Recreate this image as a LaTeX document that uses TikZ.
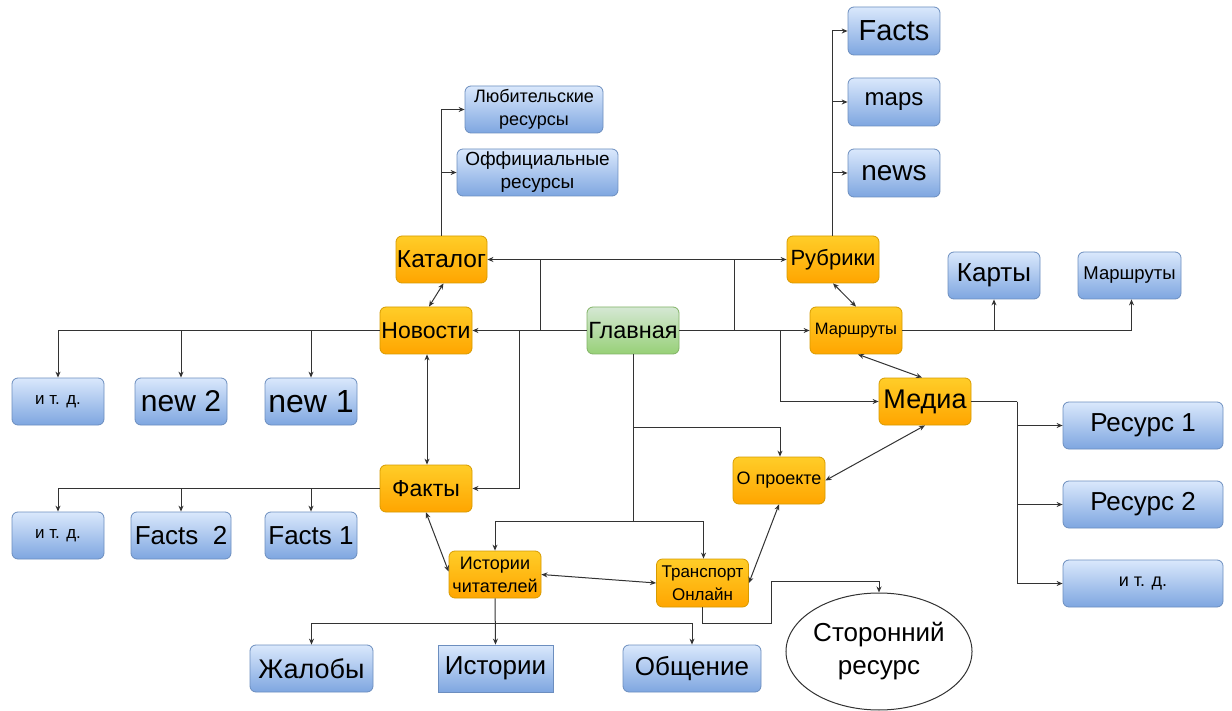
\documentclass[tikz,border=0pt]{standalone}
\usepackage{fontspec}
\setmainfont{Liberation Sans}
\usetikzlibrary{arrows.meta,shapes.geometric}
\definecolor{orT}{HTML}{FFCD28}\definecolor{orB}{HTML}{FFA500}\definecolor{orD}{HTML}{D79B00}
\definecolor{blT}{HTML}{DAE8FC}\definecolor{blB}{HTML}{7EA6E0}\definecolor{blD}{HTML}{6C8EBF}
\definecolor{grT}{HTML}{D5E8D4}\definecolor{grB}{HTML}{97D077}\definecolor{grD}{HTML}{82B366}
\definecolor{ln}{HTML}{333333}
\tikzset{
  base/.style={rounded corners=6pt, inner sep=0pt, align=center, line width=0.8pt, text=black},
  org/.style={base, draw=orD, top color=orT, bottom color=orB},
  blu/.style={base, draw=blD, top color=blT, bottom color=blB},
  grn/.style={base, draw=grD, top color=grT, bottom color=grB},
  sz/.style 2 args={minimum width=#1, minimum height=#2},
  fa/.style={font=\fontsize{#1}{#1}\selectfont},
  fb/.style={font=\fontsize{#1}{23}\selectfont},
  conn/.style={draw=ln, line width=1pt},
  arr/.style={conn, -{Stealth[length=6pt,width=5pt]}},
  darr/.style={conn, {Stealth[length=6pt,width=5pt]}-{Stealth[length=6pt,width=5pt]}},
}
\begin{document}
\begin{tikzpicture}[x=1pt,y=-1pt]
\useasboundingbox[fill=white] (0,0) rectangle (1232,711);
% top right column
\node[blu, sz={92}{48}, fa=29] (facts) at (894,31) {Facts};
\node[blu, sz={92}{48}, fa=24] (maps) at (894,102) {maps};
\node[blu, sz={92}{48}, fa=28] (news) at (894,173) {news};
\node[org, sz={92}{47}, fa=22] (rub) at (833,259.5) {Рубрики};
% top left
\node[blu, sz={138}{47}, fb=18] (lub) at (534,109.5) {Любительские\\ресурсы};
\node[blu, sz={161}{47}, fb=19] (off) at (537.5,172.5) {Оффициальные\\ресурсы};
\node[org, sz={91}{47}, fa=24.5] (kat) at (441.5,259.5) {Каталог};
% middle row
\node[org, sz={92}{47}, fa=23] (nov) at (426,330.5) {Новости};
\node[grn, sz={92}{47}, fa=23.5] (glav) at (633,330.5) {Главная};
\node[org, sz={92}{47}, fa=16.5] (mar) at (856,330.5) {Маршруты};
\node[blu, sz={92}{47}, fa=26] (karty) at (994,275.5) {Карты};
\node[blu, sz={103}{47}, fa=18.5] (mar2) at (1129.5,275.5) {Маршруты};
\node[org, sz={92}{47}, fa=27] (med) at (925,401.5) {Медиа};
% left rows
\node[blu, sz={92}{47}, fa=17] (itdA) at (58,401.5) {и т. д.};
\node[blu, sz={92}{47}, fa=30] (new2) at (181,401.5) {new 2};
\node[blu, sz={92}{47}, fa=32] (new1) at (311,401.5) {new 1};
\node[org, sz={92}{47}, fa=23] (fak) at (426,488.5) {Факты};
\node[blu, sz={92}{47}, fa=17] (itdB) at (58,535.5) {и т. д.};
\node[blu, sz={100}{47}, fa=26] (f2) at (181,535.5) {Facts\ \ 2};
\node[blu, sz={92}{47}, fa=26] (f1) at (311,535.5) {Facts 1};
% lower middle
\node[org, sz={92}{47}, fa=18] (opr) at (779,480.5) {О проекте};
\node[org, sz={92}{47}, fb=18] (ist) at (495,574.5) {Истории\\читателей};
\node[org, sz={92}{48}, fb=17] (tr) at (702.5,583) {Транспорт\\Онлайн};
% right column
\node[blu, sz={160}{47}, fa=26] (res1) at (1143,425.5) {Ресурс 1};
\node[blu, sz={160}{47}, fa=26] (res2) at (1143,504.5) {Ресурс 2};
\node[blu, sz={160}{47}, fa=18] (itdC) at (1143,583.5) {и т. д.};
% bottom row
\node[blu, sz={123}{47}, fa=27] (zhal) at (311.5,668.5) {Жалобы};
\node[blu, sz={115}{47}, fa=26, rounded corners=0pt] (istr) at (495.5,668.5) {Истории};
\node[blu, sz={138}{47}, fa=26] (obsh) at (692,668.5) {Общение};
\node[ellipse, draw=ln, line width=1pt, fill=white, minimum width=169, minimum height=117, inner sep=0pt, align=center, font=\fontsize{26}{33}\selectfont] (stor) at (879,651.5) {Сторонний\\ресурс};
% junction coordinates
\coordinate (jA) at (540,330.5);
\coordinate (jB) at (734,330.5);
\coordinate (jC) at (780,330.5);
\coordinate (jD) at (519,330.5);
\coordinate (jE) at (633,427);
\coordinate (jF) at (633,521);
\coordinate (jG) at (1017,401.5);
\coordinate (jH) at (495,623);
\coordinate (k1) at (771,623);
\coordinate (k2) at (771,581);
% connectors
\draw[arr] (kat.north) |- (lub.west);
\draw[arr] (kat.north) |- (off.west);
\draw[arr] ([xshift=-1pt]rub.north) |- (facts.west);
\draw[arr] ([xshift=-1pt]rub.north) |- (maps.west);
\draw[arr] ([xshift=-1pt]rub.north) |- (news.west);
\draw[arr] (glav.west) -- (nov.east);
\draw[arr] (glav.west) -- (jA) |- (rub.west);
\draw[arr] (glav.east) -- (jB) |- (kat.east);
\draw[arr] (glav.east) -- (mar.west);
\draw[arr] (jC) |- (med.west);
\draw[arr] (jD) |- (fak.east);
\draw[arr] (nov.west) -| (itdA.north);
\draw[arr] (nov.west) -| (new2.north);
\draw[arr] (nov.west) -| (new1.north);
\draw[arr] (fak.west) -| (itdB.north);
\draw[arr] (fak.west) -| (f2.north);
\draw[arr] (fak.west) -| (f1.north);
\draw[darr] ([xshift=1pt]nov.south) -- ([xshift=1pt]fak.north);
\draw[darr] ([xshift=2pt]kat.south) -- ([xshift=3pt]nov.north);
\draw[darr] (rub.south) -- (mar.north);
\draw[darr] ([xshift=2pt]mar.south) -- ([xshift=-3pt]med.north);
\draw[darr] (med.south) -- (opr.east);
\draw[darr] (opr.south) -- (tr.east);
\draw[darr] (fak.south) -- ([yshift=3pt]ist.west);
\draw[darr] (ist.east) -- (tr.west);
\draw[conn] (glav.south) -- (jF);
\draw[arr] (jE) -| ([xshift=1pt]opr.north);
\draw[arr] (jF) -| (ist.north);
\draw[arr] (jF) -| ([xshift=1pt]tr.north);
\draw[conn] (med.east) -- (jG);
\draw[arr] (jG) |- (res1.west);
\draw[arr] (jG) |- (res2.west);
\draw[arr] (jG) |- (itdC.west);
\draw[arr] (mar.east) -| (karty.south);
\draw[arr] (mar.east) -| ([xshift=2pt]mar2.south);
\draw[arr] (ist.south) -- (istr.north);
\draw[arr] (jH) -| (zhal.north);
\draw[arr] (jH) -| (obsh.north);
\draw[arr] (tr.south) |- (k1) -- (k2) -| (stor.north);
\end{tikzpicture}
\end{document}
